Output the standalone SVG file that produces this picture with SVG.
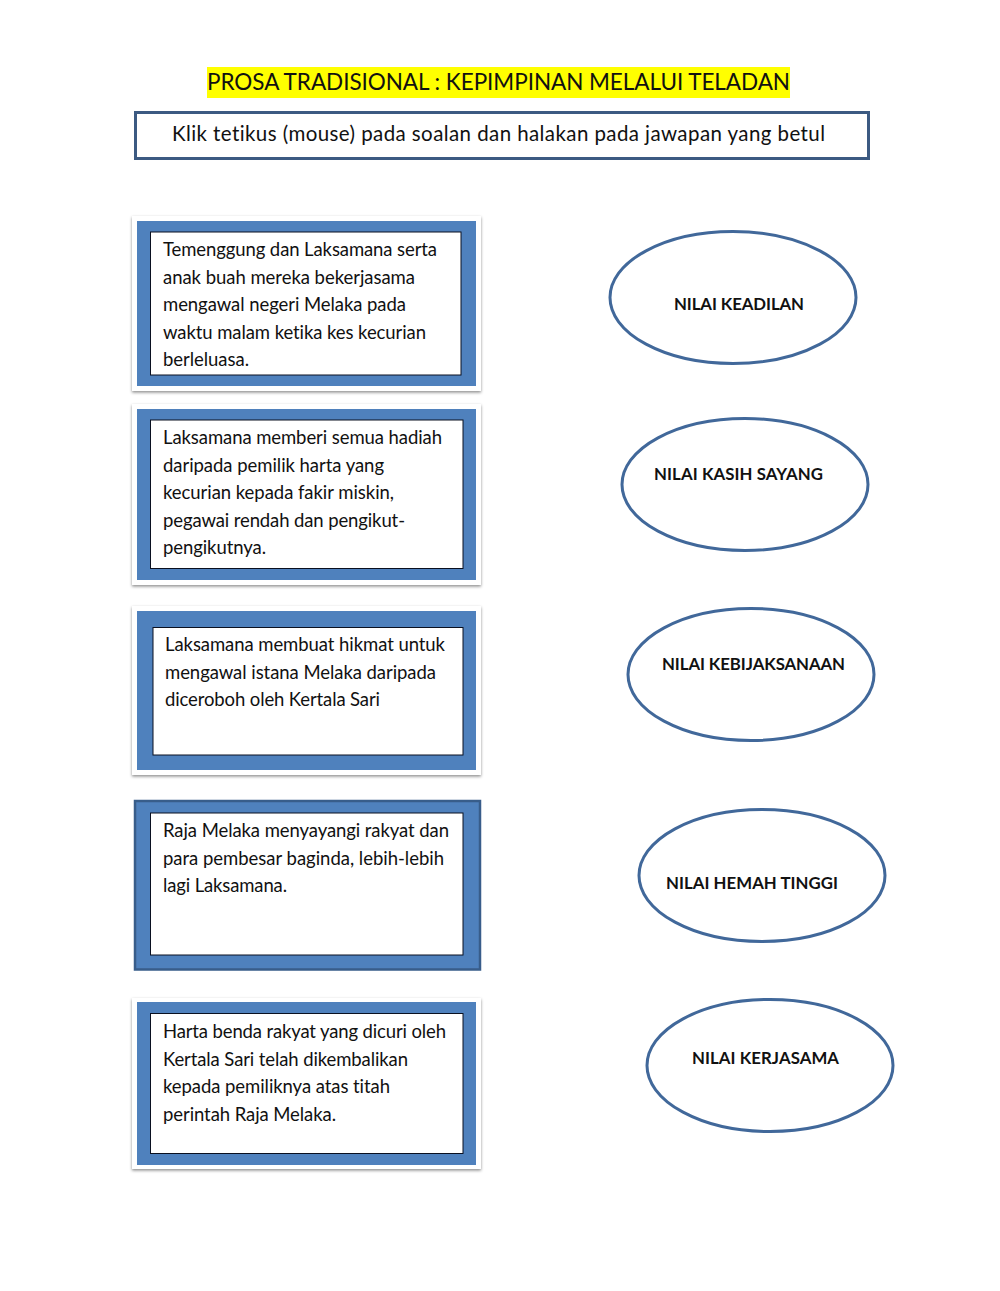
<svg xmlns="http://www.w3.org/2000/svg" width="1000" height="1291" viewBox="0 0 1000 1291">
<style>
text{font-family:"Lato","Open Sans","Liberation Sans",sans-serif;fill:#111;font-variant-ligatures:none}
.t{font-size:18.500px}
.n{font-size:16.800px;font-weight:700}
.frame{fill:#fff;filter:url(#sh)}
.blue{fill:#4f81bd}
.inner{fill:#fff;stroke:#0a1020;stroke-width:1}
ellipse{fill:#fff;stroke:#41689a;stroke-width:3}
</style>
<defs>
<filter id="sh" x="-5%" y="-5%" width="110%" height="112%"><feDropShadow dx="0" dy="1.5" stdDeviation="1.5" flood-color="#000" flood-opacity="0.45"/></filter>
</defs>
<rect width="1000" height="1291" fill="#fff"/>
<g id="title">
<rect x="207" y="67" width="583" height="31" fill="#ffff00"/>
<text x="207" y="90" font-size="22.500" textLength="583" lengthAdjust="spacing">PROSA TRADISIONAL : KEPIMPINAN MELALUI TELADAN</text>
</g>
<g id="instruction">
<rect x="135.500" y="112.500" width="733" height="46" fill="#fff" stroke="#3c5a82" stroke-width="3"/>
<text x="172" y="141" font-size="20.500" textLength="653" lengthAdjust="spacing">Klik tetikus (mouse) pada soalan dan halakan pada jawapan yang betul</text>
</g>
<g id="q1">
<rect class="frame" x="132" y="216" width="349" height="175"/>
<rect class="blue" x="137" y="221" width="339" height="165"/>
<rect class="inner" x="150.500" y="232" width="310.500" height="143"/>
<text class="t" x="163" y="255.500" textLength="274" lengthAdjust="spacing">Temenggung dan Laksamana serta</text>
<text class="t" x="163" y="283.500" textLength="252" lengthAdjust="spacing">anak buah mereka bekerjasama</text>
<text class="t" x="163" y="311" textLength="243" lengthAdjust="spacing">mengawal negeri Melaka pada</text>
<text class="t" x="163" y="338.500" textLength="263" lengthAdjust="spacing">waktu malam ketika kes kecurian</text>
<text class="t" x="163" y="366" textLength="86" lengthAdjust="spacing">berleluasa.</text>
</g>
<g id="q2">
<rect class="frame" x="132" y="404" width="349" height="181"/>
<rect class="blue" x="137" y="409" width="339" height="171"/>
<rect class="inner" x="150.500" y="420" width="312.500" height="148.500"/>
<text class="t" x="163" y="443.500" textLength="279" lengthAdjust="spacing">Laksamana memberi semua hadiah</text>
<text class="t" x="163" y="471.500" textLength="221" lengthAdjust="spacing">daripada pemilik harta yang</text>
<text class="t" x="163" y="499" textLength="231" lengthAdjust="spacing">kecurian kepada fakir miskin,</text>
<text class="t" x="163" y="526.500" textLength="242" lengthAdjust="spacing">pegawai rendah dan pengikut-</text>
<text class="t" x="163" y="554" textLength="103" lengthAdjust="spacing">pengikutnya.</text>
</g>
<g id="q3">
<rect class="frame" x="132" y="606" width="349" height="169"/>
<rect class="blue" x="137" y="611" width="339" height="159"/>
<rect class="inner" x="153" y="627.500" width="310" height="127.500"/>
<text class="t" x="165" y="651" textLength="280" lengthAdjust="spacing">Laksamana membuat hikmat untuk</text>
<text class="t" x="165" y="679" textLength="271" lengthAdjust="spacing">mengawal istana Melaka daripada</text>
<text class="t" x="165" y="706" textLength="215" lengthAdjust="spacing">diceroboh oleh Kertala Sari</text>
</g>
<g id="q4">
<rect x="135" y="801" width="345" height="168.500" fill="#4f81bd" stroke="#385d8a" stroke-width="2.500"/>
<rect class="inner" x="150.500" y="813" width="312.500" height="142"/>
<text class="t" x="163" y="837" textLength="286" lengthAdjust="spacing">Raja Melaka menyayangi rakyat dan</text>
<text class="t" x="163" y="865" textLength="281" lengthAdjust="spacing">para pembesar baginda, lebih-lebih</text>
<text class="t" x="163" y="892" textLength="124" lengthAdjust="spacing">lagi Laksamana.</text>
</g>
<g id="q5">
<rect class="frame" x="132" y="998" width="349" height="171"/>
<rect class="blue" x="137" y="1002" width="339" height="163"/>
<rect class="inner" x="150.500" y="1013.500" width="312.500" height="140"/>
<text class="t" x="163" y="1038" textLength="283" lengthAdjust="spacing">Harta benda rakyat yang dicuri oleh</text>
<text class="t" x="163" y="1065.500" textLength="245" lengthAdjust="spacing">Kertala Sari telah dikembalikan</text>
<text class="t" x="163" y="1093" textLength="227" lengthAdjust="spacing">kepada pemiliknya atas titah</text>
<text class="t" x="163" y="1120.500" textLength="173" lengthAdjust="spacing">perintah Raja Melaka.</text>
</g>
<g id="a1">
<ellipse cx="733" cy="297.500" rx="123" ry="66"/>
<text class="n" x="674" y="309.500" textLength="130" lengthAdjust="spacing">NILAI KEADILAN</text>
</g>
<g id="a2">
<ellipse cx="745" cy="484.500" rx="123" ry="66"/>
<text class="n" x="654" y="480" textLength="169" lengthAdjust="spacing">NILAI KASIH SAYANG</text>
</g>
<g id="a3">
<ellipse cx="751" cy="674.500" rx="123" ry="66"/>
<text class="n" x="662" y="669.500" textLength="183" lengthAdjust="spacing">NILAI KEBIJAKSANAAN</text>
</g>
<g id="a4">
<ellipse cx="762" cy="875.500" rx="123" ry="66"/>
<text class="n" x="666" y="889" textLength="172" lengthAdjust="spacing">NILAI HEMAH TINGGI</text>
</g>
<g id="a5">
<ellipse cx="770" cy="1065.500" rx="123" ry="66"/>
<text class="n" x="692" y="1064" textLength="147" lengthAdjust="spacing">NILAI KERJASAMA</text>
</g>
</svg>
